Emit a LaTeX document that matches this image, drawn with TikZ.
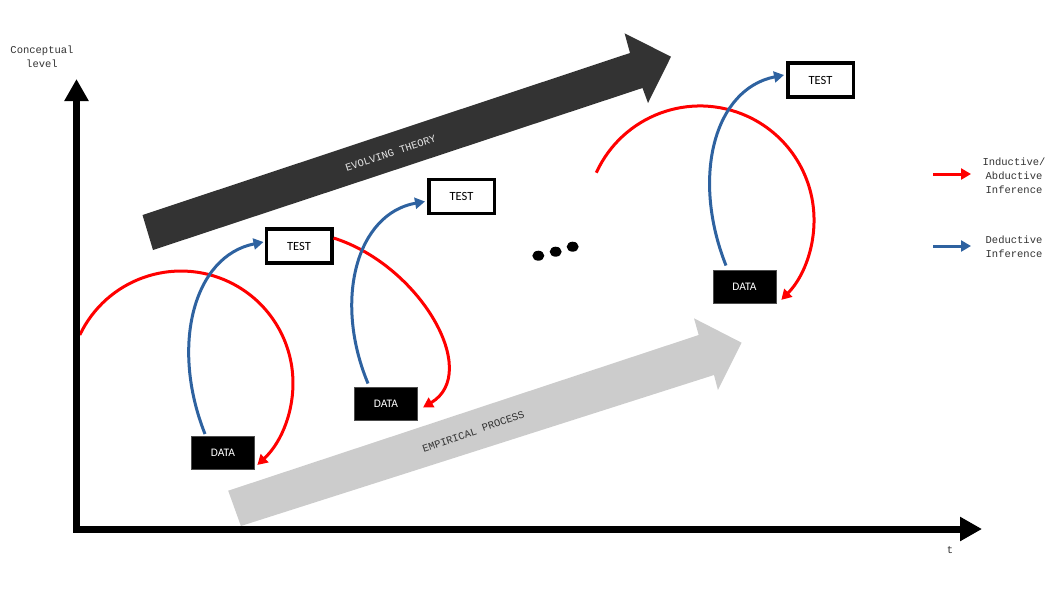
\documentclass[tikz,border=0pt]{standalone}
\usepackage{fontspec}
\setmonofont{Liberation Mono}
\newfontfamily\carlitofont{Carlito}
\usetikzlibrary{arrows.meta}
\definecolor{dkarrow}{HTML}{333333}
\definecolor{ltarrow}{HTML}{CCCCCC}
\definecolor{indred}{HTML}{FF0000}
\definecolor{dedblue}{HTML}{2E62A0}
\definecolor{txtgray}{HTML}{333333}
\definecolor{lighttxt}{HTML}{E4E4E4}
\begin{document}
\begin{tikzpicture}[x=1pt,y=1pt,
  testbox/.style={draw=black, line width=3.5pt, fill=white, minimum width=65.5pt, minimum height=34pt, inner sep=0pt, font=\carlitofont\fontsize{12.5}{14}\selectfont},
  databox/.style={draw=black!70, line width=1pt, fill=black, text=white, minimum width=63pt, minimum height=33pt, inner sep=0pt, font=\carlitofont\fontsize{11.5}{13}\selectfont},
  monolabel/.style={font=\ttfamily\fontsize{10.5}{14}\selectfont, text=txtgray, align=center, inner sep=0pt},
  arrowlabel/.style={font=\ttfamily\fontsize{10.5}{12}\selectfont, inner sep=0pt},
  redarc/.style={draw=indred, line width=3pt, -{Triangle[length=10pt,width=11pt]}},
  bluearc/.style={draw=dedblue, line width=3pt, -{Triangle[length=10pt,width=11pt]}},
  axisline/.style={draw=black, line width=7pt, {Triangle[length=22pt,width=23pt]}-{Triangle[length=22pt,width=23pt]}},
  bigdark/.style={fill=dkarrow},
  biglight/.style={fill=ltarrow},
  dot/.style={fill=black}
]
\useasboundingbox (0,0) rectangle (1058,-595);

% big process arrows
\fill[bigdark] (142.5,-215) -- (630,-53) -- (624.6,-33.3) -- (671,-56.7) -- (648,-103) -- (642.5,-88) -- (153,-250) -- cycle;
\node[arrowlabel, text=lighttxt, rotate=18.5] (evol) at (390.7,-153.3) {EVOLVING THEORY};

\fill[biglight] (228.2,-490.7) -- (698.7,-335) -- (694,-318.3) -- (741.6,-342.7) -- (717.9,-390) -- (714,-375) -- (240.9,-526) -- cycle;
\node[arrowlabel, text=txtgray, rotate=19] (emp) at (473.4,-431.7) {EMPIRICAL PROCESS};

% boxes
\node[testbox] (test1) at (299,-246) {TEST};
\node[testbox] (test2) at (461.5,-196.5) {TEST};
\node[testbox] (test3) at (820.5,-80) {TEST};
\node[databox] (data1) at (223,-453) {DATA};
\node[databox] (data2) at (386,-403.5) {DATA};
\node[databox] (data3) at (744.5,-286.5) {DATA};

% inductive / abductive arcs
\coordinate (r1start) at (79.8,-335);
\draw[redarc] (r1start) arc[start angle=154.6, end angle=-47, radius=112];
\draw[redarc] ([yshift=8pt]test1.east) .. controls +(86,-27) and +(59,35) .. ([xshift=5pt,yshift=-4pt]data2.east);
\coordinate (r3start) at (596.3,-172.7);
\draw[redarc] (r3start) arc[start angle=155.5, end angle=-44.5, radius=114];

% deductive arcs
\draw[bluearc] ([xshift=14pt,yshift=2pt]data1.north west) .. controls +(-35,88) and +(-70,-14) .. ([xshift=-1pt,yshift=4pt]test1.west);
\draw[bluearc] ([xshift=14pt,yshift=3pt]data2.north west) .. controls +(-35,84) and +(-68,-12) .. ([xshift=-2pt,yshift=-5pt]test2.west);
\draw[bluearc] ([xshift=13.5pt,yshift=4pt]data3.north west) .. controls +(-35,88) and +(-70,-14) .. ([xshift=-2pt,yshift=5pt]test3.west);

% ellipsis dots
\fill[dot] (538.3,-255.7) ellipse[x radius=6, y radius=5];
\fill[dot] (555.7,-251.7) ellipse[x radius=6, y radius=5];
\fill[dot] (572.7,-246.7) ellipse[x radius=6, y radius=5];

% axes
\coordinate (ytip) at (76.5,-79);
\coordinate (origin) at (76.5,-529);
\coordinate (xtip) at (982,-529);
\draw[axisline] (ytip) -- (origin) -- (xtip);
\node[monolabel] (ylabel) at (42,-57) {Conceptual\\level};
\node[monolabel] (xlabel) at (950,-550) {t};

% legend
\coordinate (lr1) at (933,-174);
\coordinate (lr2) at (971,-174);
\coordinate (lb1) at (933,-246);
\coordinate (lb2) at (971,-246);
\draw[redarc] (lr1) -- (lr2);
\draw[bluearc] (lb1) -- (lb2);
\node[monolabel] (legind) at (1014,-175.5) {Inductive/\\Abductive\\Inference};
\node[monolabel] (legded) at (1014,-246.5) {Deductive\\Inference};
\end{tikzpicture}
\end{document}
